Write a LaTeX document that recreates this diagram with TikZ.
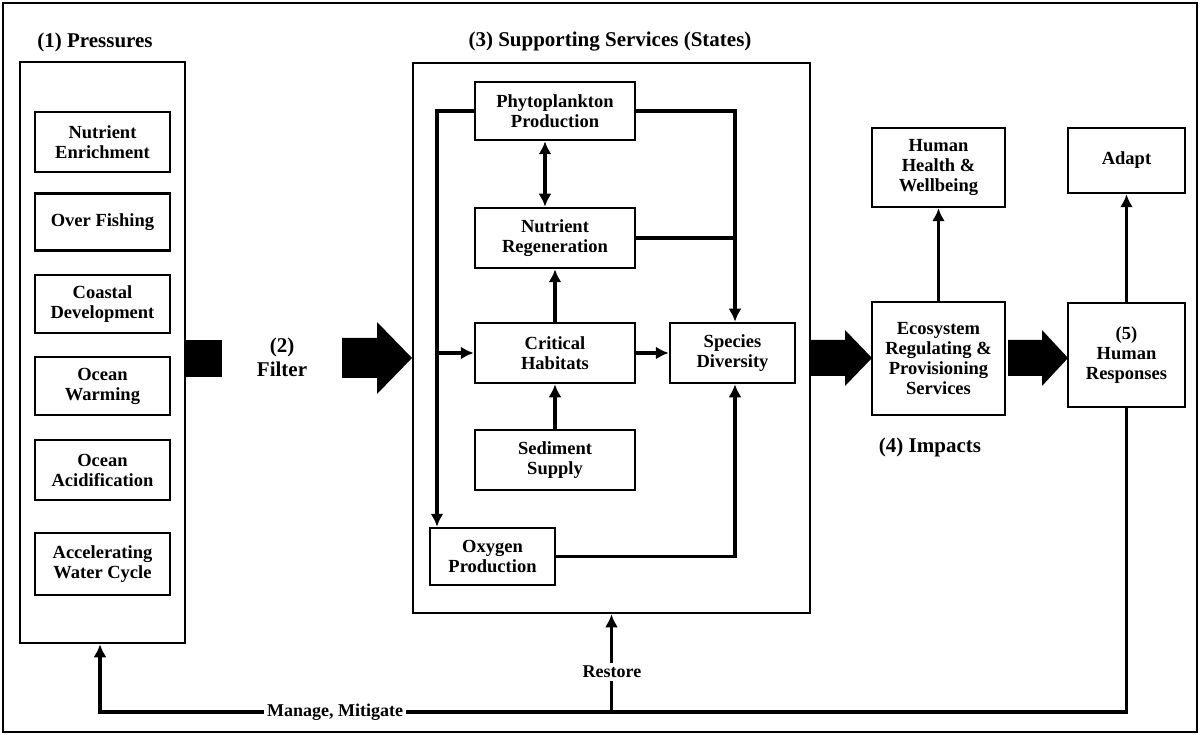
\documentclass[tikz,border=0pt]{standalone}
\usepackage{fontspec}
\setmainfont{Liberation Serif}
\usetikzlibrary{arrows.meta}
\begin{document}
\begin{tikzpicture}[x=1pt,y=-1pt,
  box/.style={draw,line width=2.5pt,align=center,font=\bfseries\fontsize{18.5}{20}\selectfont,inner sep=0pt},
  frame/.style={draw,line width=2.5pt},
  ar/.style={line width=3.5pt,-{Latex[length=13pt,width=13pt]}},
  ln/.style={line width=3.5pt},
  lab/.style={font=\bfseries\fontsize{21}{24}\selectfont,align=center},
  big/.style={fill=black}]
\useasboundingbox (0,0) rectangle (1200,735);
\draw[line width=1.5pt] (3,3) rectangle (1197,732);
% (1)
\node[lab] (t1) at (95,42) {(1) Pressures};
\node[frame,minimum width=165pt,minimum height=581pt] (P) at (102.5,352.5) {};
\node[box,minimum width=135pt,minimum height=60pt] (p1) at (102.5,142) {Nutrient\\Enrichment};
\node[box,minimum width=135pt,minimum height=57pt] (p2) at (102.5,222) {Over Fishing};
\node[box,minimum width=135pt,minimum height=58pt] (p3) at (102.5,304) {Coastal\\Development};
\node[box,minimum width=135pt,minimum height=58pt] (p4) at (102.5,386) {Ocean\\Warming};
\node[box,minimum width=135pt,minimum height=60pt] (p5) at (102.5,470) {Ocean\\Acidification};
\node[box,minimum width=135pt,minimum height=62pt] (p6) at (102.5,564) {Accelerating\\Water Cycle};
\fill (185,340) rectangle (222,377);
% (2)
\node[lab] (t2) at (282,357) {(2)\\Filter};
\fill (342,338) -- (377,338) -- (377,322) -- (412,358) -- (377,394) -- (377,378) -- (342,378) -- cycle;
% (3)
\node[lab] (t3) at (610,42) {(3) Supporting Services (States)};
\node[frame,minimum width=397pt,minimum height=550pt] (S) at (611.5,338) {};
\node[box,minimum width=160pt,minimum height=58pt] (ph) at (555,111) {Phytoplankton\\Production};
\node[box,minimum width=160pt,minimum height=60pt] (nr) at (555,238) {Nutrient\\Regeneration};
\node[box,minimum width=160pt,minimum height=60pt] (ch) at (555,353) {Critical\\Habitats};
\node[box,minimum width=125pt,minimum height=60pt] (sd) at (732.5,353) {Species\\Diversity};
\node[box,minimum width=160pt,minimum height=60pt] (ss) at (555,460) {Sediment\\Supply};
\node[box,minimum width=125pt,minimum height=57pt] (op) at (492.5,556.5) {Oxygen\\Production};
\coordinate (L1) at (437,111);
\coordinate (L2) at (437,353);
\draw[ar] (ph.west) -- (L1) -- (L1 |- op.north);
\draw[ar] (L2) -- (ch.west);
\draw[line width=3.5pt,{Latex[length=13pt,width=13pt]}-{Latex[length=13pt,width=13pt]}] (ph.south -| 545,0) -- (nr.north -| 545,0);
\draw[ar] (ch.north) -- (nr.south);
\draw[ar] (ss.north) -- (ch.south);
\draw[ar] (ch.east) -- (sd.west);
\coordinate (R1) at (735,111);
\coordinate (R2) at (735,238);
\coordinate (R3) at (735,556.5);
\draw[ar] (ph.east) -- (R1) -- (R1 |- sd.north);
\draw[ln] (nr.east) -- (R2);
\draw[ar] (op.east) -- (R3) -- (R3 |- sd.south);
% (4)
\fill (810,340) -- (845,340) -- (845,330) -- (872,358) -- (845,386) -- (845,376) -- (810,376) -- cycle;
\node[box,minimum width=133pt,minimum height=113pt] (es) at (938.5,358.5) {Ecosystem\\Regulating \&\\Provisioning\\Services};
\node[box,minimum width=133pt,minimum height=79pt] (hh) at (938.5,167.5) {Human\\Health \&\\Wellbeing};
\draw[ar] (es.north) -- (hh.south);
\node[lab] (t4) at (930,447) {(4) Impacts};
\fill (1008,340) -- (1042,340) -- (1042,330) -- (1068,358) -- (1042,386) -- (1042,376) -- (1008,376) -- cycle;
% (5)
\node[box,minimum width=117pt,minimum height=104pt] (hr) at (1126.5,355) {(5)\\Human\\Responses};
\node[box,minimum width=117pt,minimum height=65pt] (ad) at (1126.5,160.5) {Adapt};
\draw[ar] (hr.north) -- (ad.south);
% bottom feedback
\coordinate (B1) at (1126.5,712);
\coordinate (B2) at (100,712);
\coordinate (B3) at (611.5,712);
\draw[ar] (hr.south) -- (B1) -- (B2) -- (P.south -| B2);
\draw[ar] (B3) -- (S.south -| B3);
\node[lab,fill=white,inner sep=3pt,font=\bfseries\fontsize{18}{21}\selectfont] (mm) at (335,712) {Manage, Mitigate};
\node[lab,fill=white,inner sep=3pt,font=\bfseries\fontsize{18}{21}\selectfont] (rs) at (612,672) {Restore};
\end{tikzpicture}
\end{document}
